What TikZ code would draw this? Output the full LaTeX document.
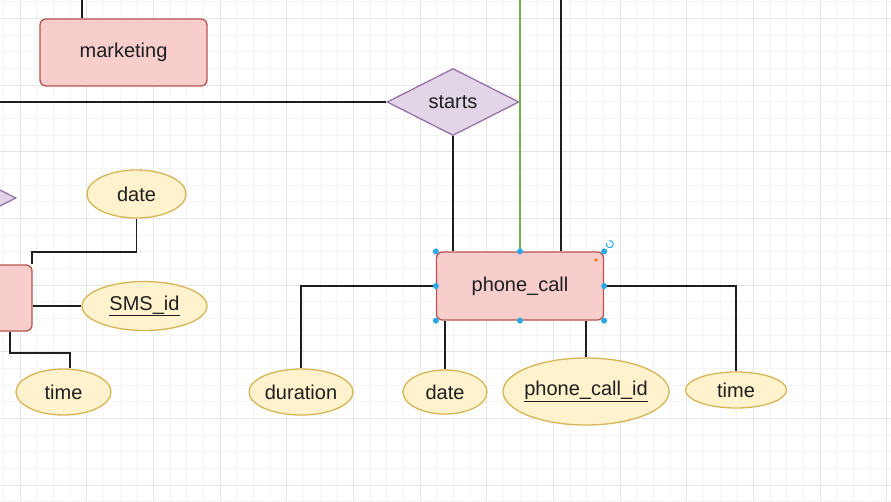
\documentclass[tikz,border=0pt]{standalone}
\usepackage{fontspec}
\setmainfont{Liberation Sans}
\usetikzlibrary{shapes.geometric, positioning}
\definecolor{rosa}{HTML}{F8CECC}
\definecolor{rosaborde}{HTML}{B85450}
\definecolor{lila}{HTML}{E1D5E7}
\definecolor{lilaborde}{HTML}{9673A6}
\definecolor{crema}{HTML}{FFF2CC}
\definecolor{cremaborde}{HTML}{D6B656}
\definecolor{verde}{HTML}{74B050}
\definecolor{asa}{HTML}{29A8E6}
\definecolor{tinta}{HTML}{1E1E1E}
\tikzset{
    ent/.style={draw=rosaborde, fill=rosa, rectangle, rounded corners=6pt, line width=1.3pt, text=tinta, inner sep=0pt},
    rel/.style={draw=lilaborde, fill=lila, diamond, line width=1.3pt, text=tinta, inner sep=0pt},
    attr/.style={draw=cremaborde, fill=crema, ellipse, line width=1.3pt, text=tinta, inner sep=0pt},
    conn/.style={-, draw=tinta, line width=1.9pt},
    gridminor/.style={draw=black!4, line width=0.6pt},
    gridmajor/.style={draw=black!10, line width=0.8pt},
    handle/.style={fill=asa},
}
\newcommand{\lbl}[1]{\makebox[0pt]{#1}}

\begin{document}
\begin{tikzpicture}[x=1pt, y=-1pt, font=\fontsize{20}{24}\selectfont]
    \clip (0,0) rectangle (891,501);
    \fill[white] (0,0) rectangle (891,501);
    \foreach \i in {0,...,53} {
        \draw[gridminor] ({3.33+16.667*\i},0) -- ++(0,501);
        \draw[gridminor] (0,{1.67+16.667*\i}) -- ++(891,0);
    }
    \foreach \i in {0,...,13} {
        \draw[gridmajor] ({20+66.667*\i},0) -- ++(0,501);
        \draw[gridmajor] (0,{18.33+66.667*\i}) -- ++(891,0);
    }

    % entities and relations
    \node [ent, minimum width=167, minimum height=67] (mkt) at (123.5,52.5) {marketing};
    \node [rel, minimum width=132, minimum height=67] (starts) at (453,102) {\lbl{starts}};
    \node [ent, minimum width=167, minimum height=68] (pc) at (520,286) {phone\_call};
    \node [ent, minimum width=167, minimum height=66] (sms) at (-51.5,298) {};
    \node [rel, minimum width=132, minimum height=67] (smsrel) at (-50,198) {};

    % attributes
    \node [attr, minimum width=99, minimum height=48] (date1) at (136.5,194) {\lbl{date}};
    \node [attr, minimum width=125, minimum height=49] (smsid) at (144.5,306) {\lbl{\underline{SMS\_id}}};
    \node [attr, minimum width=95, minimum height=46] (time1) at (63.5,392) {\lbl{time}};
    \node [attr, minimum width=104, minimum height=46] (dur) at (301,392) {\lbl{duration}};
    \node [attr, minimum width=84, minimum height=44] (date2) at (445,392) {\lbl{date}};
    \node [attr, minimum width=166, minimum height=67] (pcid) at (586,391.5) {\lbl{\underline{phone\_call\_id}}};
    \node [attr, minimum width=101, minimum height=36] (time2) at (736,390) {\lbl{time}};

    % free ends and bends
    \coordinate (mtop) at (82,0);
    \coordinate (sleft) at (0,102);
    \coordinate (gtop) at (520,0);
    \coordinate (btop) at (561,0);
    \coordinate (dbend) at (32,252);
    \coordinate (tbendA) at (10,353);
    \coordinate (tbendB) at (70,353);

    \draw[conn] (mtop) -- (mtop |- mkt.north);
    \draw[conn] (sleft) -- (starts.west);
    \draw[verde, line width=1.5pt] (gtop) -- (pc.north);
    \draw[conn] (btop) -- (btop |- pc.north);
    \draw[conn] (starts.south) -- (starts.south |- pc.north);

    \draw[conn] (pc.west) -| (dur.north);
    \draw[conn] (date2.north |- pc.south) -- (date2.north);
    \draw[conn] (pcid.north |- pc.south) -- (pcid.north);
    \draw[conn] (pc.east) -| (time2.north);

    \draw[conn] (dbend |- sms.north) -- (dbend) -| (date1.south);
    \draw[conn] (sms.east |- smsid.west) -- (smsid.west);
    \draw[conn] (tbendA |- sms.south) -- (tbendA) -- (tbendB) -- (tbendB |- time1.north);

    % selection handles
    \foreach \a in {north west, north, north east, west, east, south west, south, south east}
        \fill[handle] (pc.\a) circle (3);
    \fill[orange] (596,260) circle (1.8);
    \draw[asa, line width=1pt] (606.5,243) arc (200:-110:3.5);
\end{tikzpicture}
\end{document}
